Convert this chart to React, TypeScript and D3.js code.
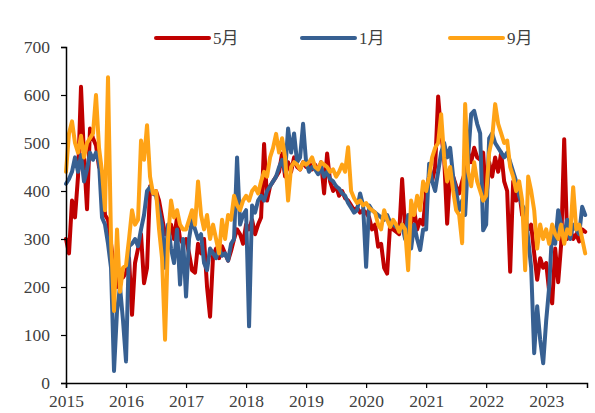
import React, { useEffect, useRef } from 'react'
import * as d3 from 'd3'

// sampled every 1/20 year starting at 2015.0
const startYear = 2015
const stepsPerYear = 20

const seriesMay = [
  // 2015
  300, 270, 380, 345, 430, 617, 470, 362, 530, 510, 495, 450, 440, 350, 340, 290, 240, 200, 235, 220,
  // 2016
  230, 260, 142, 250, 280, 310, 208, 240, 410, 395, 400, 380, 345, 310, 320, 330, 300, 345, 300, 290,
  // 2017
  300, 270, 235, 230, 290, 270, 300, 200, 138, 265, 280, 260, 285, 270, 255, 275, 300, 320, 310, 290,
  // 2018
  330, 320, 340, 310, 330, 345, 498, 380, 410, 420, 430, 440, 478, 430, 460, 440, 470, 450, 445, 460,
  // 2019
  450, 460, 445, 455, 440, 460, 395, 478, 420, 400, 410, 390, 400, 385, 380, 370, 360, 365, 355, 360,
  // 2020
  355, 345, 320, 330, 284, 290, 240, 228, 330, 320, 315, 310, 425, 320, 315, 330, 360, 320, 340, 330,
  // 2021
  400, 430, 420, 450, 597, 520, 470, 332, 440, 430, 410, 395, 420, 440, 480, 460, 490, 470, 465, 480,
  // 2022
  380, 460, 430, 470, 440, 480, 420, 400, 232, 420, 380, 400, 350, 340, 320, 330, 270, 215, 260, 240,
  // 2023
  250, 190, 166, 280, 210, 290, 508, 300, 320, 300, 310, 295, 320, 315,
]

const seriesJan = [
  // 2015
  415, 425, 440, 470, 440, 475, 420, 445, 480, 465, 480, 460, 345, 330, 290, 240, 25, 150, 200, 130,
  // 2016
  45, 285, 290, 300, 285, 320, 350, 400, 408, 395, 390, 360, 330, 240, 330, 280, 250, 320, 205, 300,
  // 2017
  180, 300, 340, 320, 300, 310, 250, 235, 280, 270, 260, 280, 265, 270, 255, 290, 300, 470, 330, 350,
  // 2018
  360, 118, 370, 355, 380, 390, 380, 400, 410, 420, 430, 450, 465, 440, 530, 480, 520, 460, 470, 540,
  // 2019
  460, 440, 450, 445, 435, 450, 430, 440, 425, 420, 410, 405, 395, 390, 375, 365, 355, 360, 395, 370,
  // 2020
  242, 370, 360, 355, 350, 345, 340, 350, 335, 330, 325, 320, 330, 300, 350, 280, 330, 300, 277, 320,
  // 2021
  320, 457, 420, 400, 440, 480, 500, 470, 490, 430, 400, 360, 380, 350, 470, 560, 567, 540, 520, 318,
  // 2022
  330, 510, 520, 500, 490, 480, 470, 480, 460, 440, 420, 390, 370, 360, 300, 240, 62, 160, 90, 41,
  // 2023
  130, 200, 320, 290, 360, 330, 310, 340, 300, 330, 320, 310, 367, 350,
]

const seriesSep = [
  // 2015
  440, 520, 545, 500, 480, 515, 470, 500, 510, 520, 600, 490, 440, 360, 637, 300, 150, 320, 190, 240,
  // 2016
  245, 300, 360, 330, 340, 505, 465, 537, 430, 395, 400, 320, 260, 90, 300, 380, 345, 360, 330, 320,
  // 2017
  320, 340, 360, 330, 420, 350, 320, 350, 300, 330, 300, 270, 340, 300, 350, 340, 390, 370, 360, 380,
  // 2018
  390, 380, 400, 408, 395, 420, 440, 430, 470, 490, 519, 480, 510, 470, 380, 450, 460, 455, 445, 460,
  // 2019
  455, 460, 470, 450, 445, 460, 455, 450, 440, 445, 430, 440, 455, 440, 491, 400, 385, 375, 380, 370,
  // 2020
  375, 365, 360, 355, 330, 320, 360, 340, 325, 340, 330, 315, 330, 320, 235, 380, 350, 390, 360, 420,
  // 2021
  400, 430, 470, 490, 500, 560, 470, 420, 450, 400, 360, 350, 291, 581, 440, 410, 460, 420, 400, 380,
  // 2022
  390, 480, 510, 581, 540, 520, 500, 505, 450, 430, 400, 420, 380, 235, 430, 400, 360, 280, 330, 300,
  // 2023
  320, 290, 330, 310, 300, 330, 290, 320, 310, 408, 320, 330, 300, 270,
]

const seriesList = [
  { num: '5', unit: '月', values: seriesMay, color: '#C00000' },
  { num: '1', unit: '月', values: seriesJan, color: '#376092' },
  { num: '9', unit: '月', values: seriesSep, color: '#FFA316' },
]

const yTicks = [0, 100, 200, 300, 400, 500, 600, 700]
const xTicks = [2015, 2016, 2017, 2018, 2019, 2020, 2021, 2022, 2023]

const width = 595
const height = 413
const serif = '"Liberation Serif", serif'
const cjk = '"Noto Sans CJK SC", sans-serif'

export default function App() {
  const svgRef = useRef<SVGSVGElement>(null)

  useEffect(() => {
    const svg = d3.select(svgRef.current)
    svg.selectAll('*').remove()

    const xScale = d3.scaleLinear().domain([2015, 2023.68]).range([66, 587])
    const yScale = d3.scaleLinear().domain([0, 700]).range([383, 47])

    const line = d3.line<number>()
      .x((d, i) => xScale(startYear + i / stepsPerYear))
      .y(d => yScale(d))

    // lines
    seriesList.forEach(s => {
      svg.append('path')
        .datum(s.values)
        .attr('fill', 'none')
        .attr('stroke', s.color)
        .attr('stroke-width', 4)
        .attr('stroke-linejoin', 'round')
        .attr('stroke-linecap', 'round')
        .attr('d', line)
    })

    // axes
    const yAxis = svg.append('g')
      .attr('transform', `translate(${xScale(2015)},0)`)
      .call(d3.axisLeft(yScale).tickValues(yTicks).tickSize(5).tickPadding(11).tickFormat(d3.format('d')))
    const xAxis = svg.append('g')
      .attr('transform', `translate(0,${yScale(0)})`)
      .call(d3.axisBottom(xScale).tickValues(xTicks).tickSize(5).tickPadding(7).tickFormat(d3.format('d')))

    ;[yAxis, xAxis].forEach(ax => {
      ax.attr('font-family', serif).attr('font-size', 17.5)
      ax.select('.domain').attr('stroke', '#000').attr('stroke-width', 1.5)
      ax.selectAll('.tick line').attr('stroke', '#000').attr('stroke-width', 1.2)
      ax.selectAll('.tick text').attr('fill', '#404040')
    })

    // legend
    const legendX = [156, 302, 450]
    const legend = svg.append('g').attr('font-size', 17)
    seriesList.forEach((s, i) => {
      legend.append('line')
        .attr('x1', legendX[i]).attr('x2', legendX[i] + 53)
        .attr('y1', 38).attr('y2', 38)
        .attr('stroke', s.color)
        .attr('stroke-width', 4)
        .attr('stroke-linecap', 'round')
      const t = legend.append('text')
        .attr('x', legendX[i] + 57)
        .attr('y', 38)
        .attr('dy', '0.35em')
        .attr('fill', '#404040')
      t.append('tspan').attr('font-family', serif).text(s.num)
      t.append('tspan').attr('font-family', cjk).text(s.unit)
    })
  }, [])

  return (
    <svg
      ref={svgRef}
      width={width}
      height={height}
      style={{ position: 'absolute', left: 0, top: 0, background: '#fff' }}
    />
  )
}
